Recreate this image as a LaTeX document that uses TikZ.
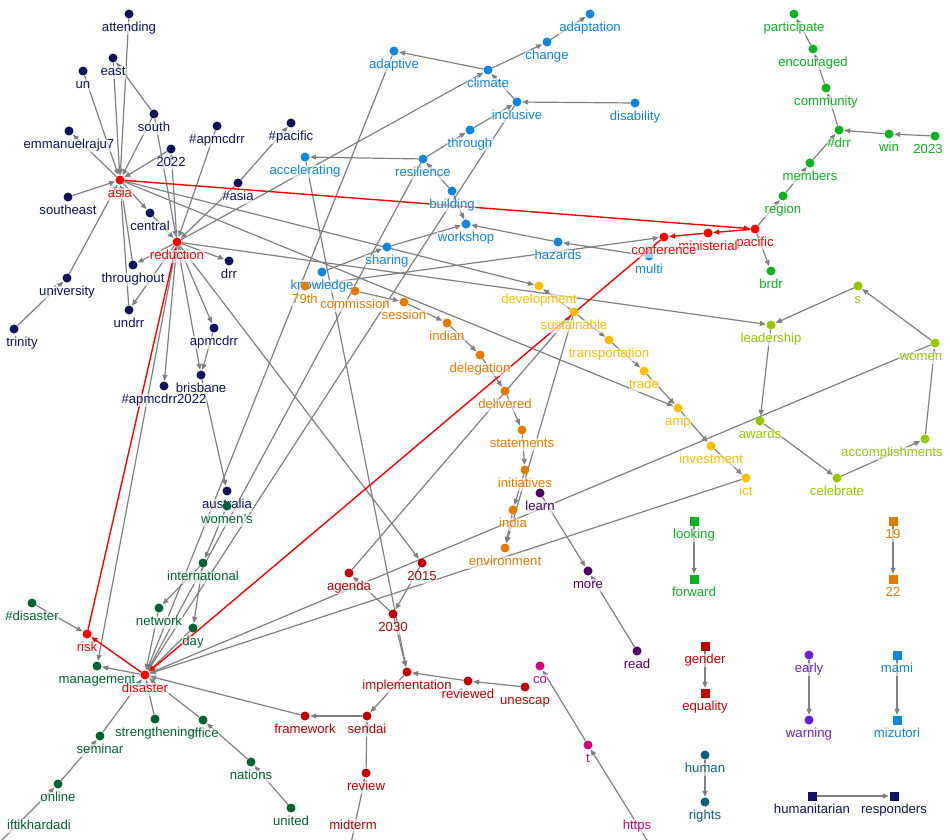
\documentclass[tikz,border=0pt]{standalone}
\usepackage{fontspec}
\setmainfont{Liberation Sans}
\usetikzlibrary{arrows.meta}
\pgfdeclarelayer{bg}
\pgfsetlayers{bg,main}
\definecolor{cnavy}{RGB}{13,19,97}
\definecolor{cred}{RGB}{255,0,0}
\definecolor{cblue}{RGB}{12,134,222}
\definecolor{corange}{RGB}{230,122,0}
\definecolor{cgold}{RGB}{255,188,0}
\definecolor{cyg}{RGB}{150,200,0}
\definecolor{cgreen}{RGB}{10,180,30}
\definecolor{cdkgreen}{RGB}{0,100,50}
\definecolor{cdkred}{RGB}{195,0,0}
\definecolor{cpurple}{RGB}{80,0,100}
\definecolor{cmag}{RGB}{210,0,125}
\definecolor{cviolet}{RGB}{110,30,210}
\definecolor{cteal}{RGB}{10,95,125}
\definecolor{egray}{RGB}{128,128,128}
\tikzset{
  dt/.style={circle,fill=#1,inner sep=0pt,minimum size=9bp},
  sq/.style={rectangle,fill=#1,inner sep=0pt,minimum size=9bp},
  lb/.style={text=#1,font=\fontsize{13.2}{15}\selectfont,fill=white,fill opacity=0.6,text opacity=1,inner sep=0.5bp,text height=9.5bp,text depth=2.6bp},
  ed/.style={draw=egray,line width=1.2bp,-{Triangle[length=6bp,width=5bp]},shorten >=0.5bp},
  hl/.style={draw=cred,line width=1.4bp,-{Triangle[length=6bp,width=5bp]},shorten >=0.5bp}
}
\newcommand\gnode[5]{\node[dt=#4,label={[lb=#4]below:#5}] (#1) at (#2,#3) {};}
\newcommand\gnodex[6]{\node[dt=#4,label={[lb=#4,xshift=#6]below:#5}] (#1) at (#2,#3) {};}
\newcommand\gsq[5]{\node[sq=#4,label={[lb=#4]below:#5}] (#1) at (#2,#3) {};}
\newcommand\lnk[2]{\draw[ed] (#1) -- (#2);}
\newcommand\hlnk[2]{\draw[hl] (#1) -- (#2);}
\begin{document}
\begin{tikzpicture}[x=1bp,y=-1bp,label distance=2.9bp]
\useasboundingbox (0,0) rectangle (950,840);
\begin{pgfonlayer}{bg}
\fill[white] (0,0) rectangle (950,840);
\end{pgfonlayer}
% navy
\gnode{attending}{129}{14}{cnavy}{attending}
\gnode{east}{113}{58}{cnavy}{east}
\gnode{un}{83}{71}{cnavy}{un}
\gnode{south}{154}{114}{cnavy}{south}
\gnode{emmanuel}{69}{131}{cnavy}{emmanuelraju7}
\gnode{y2022}{171}{149}{cnavy}{2022}
\gnode{hapmcdrr}{217}{126}{cnavy}{\#apmcdrr}
\gnode{hpacific}{291}{123}{cnavy}{\#pacific}
\gnode{hasia}{238}{183}{cnavy}{\#asia}
\gnode{southeast}{68}{197}{cnavy}{southeast}
\gnode{central}{150}{213}{cnavy}{central}
\gnode{throughout}{133}{265}{cnavy}{throughout}
\gnode{drr}{229}{261}{cnavy}{drr}
\gnode{university}{67}{278}{cnavy}{university}
\gnode{undrr}{129}{310}{cnavy}{undrr}
\gnodex{trinity}{14}{329}{cnavy}{trinity}{8bp}
\gnode{apmcdrr}{214}{328}{cnavy}{apmcdrr}
\gnode{brisbane}{201}{375}{cnavy}{brisbane}
\gnode{hapmtwo}{164}{386}{cnavy}{\#apmcdrr2022}
\gnode{australia}{227}{491}{cnavy}{australia}
\gsq{humanitarian}{812}{796}{cnavy}{humanitarian}
\gsq{responders}{894}{796}{cnavy}{responders}
% blue
\gnode{adaptation}{590}{14}{cblue}{adaptation}
\gnode{change}{547}{42}{cblue}{change}
\gnode{adaptive}{394}{51}{cblue}{adaptive}
\gnode{climate}{488}{70}{cblue}{climate}
\gnode{inclusive}{517}{102}{cblue}{inclusive}
\gnode{disability}{635}{103}{cblue}{disability}
\gnode{through}{470}{130}{cblue}{through}
\gnode{accelerating}{305}{157}{cblue}{accelerating}
\gnode{resilience}{423}{159}{cblue}{resilience}
\gnode{building}{452}{191}{cblue}{building}
\gnode{workshop}{466}{224}{cblue}{workshop}
\gnode{sharing}{387}{247}{cblue}{sharing}
\gnode{hazards}{558}{242}{cblue}{hazards}
\gnode{knowledge}{322}{272}{cblue}{knowledge}
\gnode{multi}{649}{256}{cblue}{multi}
\gsq{mami}{897}{655}{cblue}{mami}
\gsq{mizutori}{897}{720}{cblue}{mizutori}
% orange
\gnode{n79th}{305}{286}{corange}{79th}
\gnode{commission}{355}{291}{corange}{commission}
\gnode{session}{404}{302}{corange}{session}
\gnode{indian}{447}{323}{corange}{indian}
\gnode{delegation}{480}{355}{corange}{delegation}
\gnode{delivered}{505}{391}{corange}{delivered}
\gnode{statements}{522}{430}{corange}{statements}
\gnode{initiatives}{525}{470}{corange}{initiatives}
\gnode{india}{513}{510}{corange}{india}
\gnode{environment}{505}{548}{corange}{environment}
\gsq{n19}{893}{521}{corange}{19}
\gsq{n22}{893}{579}{corange}{22}
% gold
\gnode{development}{539}{286}{cgold}{development}
\gnode{sustainable}{574}{312}{cgold}{sustainable}
\gnode{transportation}{609}{340}{cgold}{transportation}
\gnode{trade}{644}{371}{cgold}{trade}
\gnode{amp}{678}{408}{cgold}{amp}
\gnode{investment}{711}{446}{cgold}{investment}
\gnode{ict}{746}{478}{cgold}{ict}
% yellow green
\gnode{s}{858}{286}{cyg}{s}
\gnode{leadership}{771}{325}{cyg}{leadership}
\gnodex{women}{935}{343}{cyg}{women}{-14bp}
\gnode{awards}{760}{421}{cyg}{awards}
\gnodex{accomplishments}{925}{439}{cyg}{accomplishments}{-33bp}
\gnode{celebrate}{837}{478}{cyg}{celebrate}
% green
\gnode{participate}{794}{14}{cgreen}{participate}
\gnode{encouraged}{813}{49}{cgreen}{encouraged}
\gnode{community}{826}{88}{cgreen}{community}
\gnode{hdrr}{839}{130}{cgreen}{\#drr}
\gnode{win}{889}{134}{cgreen}{win}
\gnodex{n2023}{935}{136}{cgreen}{2023}{-7bp}
\gnode{members}{810}{163}{cgreen}{members}
\gnode{region}{783}{196}{cgreen}{region}
\gnode{brdr}{771}{271}{cgreen}{brdr}
\gsq{looking}{694}{521}{cgreen}{looking}
\gsq{forward}{694}{579}{cgreen}{forward}
% dark green
\gnode{womens}{227}{506}{cdkgreen}{women's}
\gnode{international}{203}{563}{cdkgreen}{international}
\gnode{network}{159}{608}{cdkgreen}{network}
\gnode{day}{193}{628}{cdkgreen}{day}
\gnode{hdisaster}{32}{603}{cdkgreen}{\#disaster}
\gnode{management}{97}{666}{cdkgreen}{management}
\gnode{office}{203}{720}{cdkgreen}{office}
\gnode{strengthening}{155}{719}{cdkgreen}{strengthening}
\gnode{seminar}{100}{736}{cdkgreen}{seminar}
\gnode{nations}{251}{762}{cdkgreen}{nations}
\gnode{online}{58}{784}{cdkgreen}{online}
\gnode{united}{291}{808}{cdkgreen}{united}
\node[dt=cdkgreen] (iftikhar) at (-4,846) {};
\node[lb=cdkgreen] (iftikharlbl) at (39,826) {iftikhardadi};
% dark red
\gnode{agenda}{349}{573}{cdkred}{agenda}
\gnode{n2015}{422}{563}{cdkred}{2015}
\gnode{n2030}{393}{614}{cdkred}{2030}
\gnode{implementation}{407}{672}{cdkred}{implementation}
\gnode{reviewed}{468}{681}{cdkred}{reviewed}
\gnode{unescap}{525}{687}{cdkred}{unescap}
\gnode{framework}{305}{716}{cdkred}{framework}
\gnode{sendai}{367}{716}{cdkred}{sendai}
\gnode{review}{366}{773}{cdkred}{review}
\node[dt=cdkred] (midterm) at (350,848) {};
\node[lb=cdkred] (midtermlbl) at (353,826) {midterm};
\gsq{gender}{705}{646}{cdkred}{gender}
\gsq{equality}{705}{693}{cdkred}{equality}
% purple, magenta, violet, teal
\gnode{learn}{540}{493}{cpurple}{learn}
\gnode{more}{588}{571}{cpurple}{more}
\gnode{read}{637}{651}{cpurple}{read}
\gnode{co}{540}{666}{cmag}{co}
\gnode{t}{588}{745}{cmag}{t}
\node[dt=cmag] (https) at (652,848) {};
\node[lb=cmag] (httpslbl) at (637,826) {https};
\gnode{early}{809}{655}{cviolet}{early}
\gnode{warning}{809}{720}{cviolet}{warning}
\gnode{human}{705}{755}{cteal}{human}
\gnode{rights}{705}{802}{cteal}{rights}
% red hubs
\gnode{asia}{120}{180}{cred}{asia}
\gnode{reduction}{177}{242}{cred}{reduction}
\gnode{risk}{87}{634}{cred}{risk}
\gnode{disaster}{145}{675}{cred}{disaster}
\gnode{pacific}{755}{229}{cred}{pacific}
\gnode{ministerial}{708}{233}{cred}{ministerial}
\gnode{conference}{664}{237}{cred}{conference}
\begin{pgfonlayer}{bg}
% navy / hubs
\lnk{attending}{asia}\lnk{east}{asia}\lnk{south}{east}\lnk{south}{asia}
\lnk{un}{asia}\lnk{asia}{emmanuel}\lnk{y2022}{asia}\lnk{reduction}{y2022}
\lnk{southeast}{asia}\lnk{asia}{central}\lnk{central}{reduction}
\lnk{university}{asia}\lnk{trinity}{university}
\lnk{throughout}{asia}\lnk{undrr}{asia}
\lnk{reduction}{throughout}\lnk{reduction}{undrr}
\lnk{hapmcdrr}{reduction}\lnk{hasia}{reduction}\lnk{hasia}{hpacific}
\lnk{south}{reduction}
\lnk{reduction}{drr}\lnk{reduction}{apmcdrr}\lnk{reduction}{brisbane}
\lnk{apmcdrr}{brisbane}\lnk{reduction}{hapmtwo}\lnk{brisbane}{australia}
\lnk{reduction}{climate}\lnk{reduction}{management}\lnk{reduction}{n2015}
\lnk{reduction}{leadership}\lnk{asia}{development}\lnk{asia}{amp}
\lnk{humanitarian}{responders}
% blue
\lnk{change}{adaptation}\lnk{climate}{change}\lnk{climate}{adaptive}
\lnk{inclusive}{climate}\lnk{disability}{inclusive}\lnk{through}{inclusive}
\lnk{resilience}{through}\lnk{resilience}{accelerating}\lnk{building}{resilience}
\lnk{building}{workshop}\lnk{sharing}{workshop}\lnk{knowledge}{sharing}
\lnk{hazards}{workshop}\lnk{multi}{hazards}
\lnk{adaptive}{disaster}\lnk{resilience}{disaster}\lnk{inclusive}{disaster}
\lnk{accelerating}{implementation}\lnk{n79th}{conference}
\lnk{mami}{mizutori}
% orange
\lnk{commission}{session}\lnk{session}{indian}\lnk{indian}{delegation}
\lnk{delegation}{delivered}\lnk{delivered}{statements}\lnk{statements}{initiatives}
\lnk{initiatives}{india}\lnk{india}{environment}\lnk{sustainable}{environment}
\lnk{n19}{n22}
% gold
\lnk{sustainable}{development}\lnk{sustainable}{transportation}
\lnk{transportation}{trade}\lnk{trade}{amp}\lnk{amp}{investment}
\lnk{investment}{ict}\lnk{ict}{disaster}\lnk{agenda}{sustainable}
% yellow green
\lnk{women}{s}\lnk{s}{leadership}\lnk{leadership}{awards}
\lnk{awards}{celebrate}\lnk{celebrate}{accomplishments}\lnk{accomplishments}{women}
\lnk{women}{disaster}
% green
\lnk{pacific}{region}\lnk{region}{members}\lnk{members}{hdrr}
\lnk{hdrr}{community}\lnk{community}{encouraged}\lnk{encouraged}{participate}
\lnk{win}{hdrr}\lnk{n2023}{win}\lnk{pacific}{brdr}\lnk{looking}{forward}
% dark green
\lnk{womens}{international}\lnk{international}{network}\lnk{international}{day}
\lnk{day}{disaster}\lnk{network}{disaster}\lnk{hdisaster}{risk}
\lnk{disaster}{management}\lnk{strengthening}{disaster}\lnk{office}{disaster}
\lnk{nations}{office}\lnk{united}{nations}\lnk{seminar}{disaster}
\lnk{online}{seminar}\lnk{iftikhar}{online}
% dark red
\lnk{n2015}{n2030}\lnk{n2030}{agenda}\lnk{n2030}{implementation}
\lnk{unescap}{reviewed}\lnk{reviewed}{implementation}\lnk{implementation}{sendai}
\lnk{sendai}{framework}\lnk{framework}{disaster}\lnk{review}{sendai}
\lnk{midterm}{review}\lnk{gender}{equality}
% others
\lnk{learn}{more}\lnk{read}{more}\lnk{https}{t}\lnk{t}{co}
\lnk{early}{warning}\lnk{human}{rights}
% highlighted path
\hlnk{asia}{pacific}\hlnk{pacific}{ministerial}\hlnk{ministerial}{conference}
\hlnk{conference}{disaster}\hlnk{disaster}{risk}\hlnk{risk}{reduction}
\end{pgfonlayer}
\end{tikzpicture}
\end{document}
